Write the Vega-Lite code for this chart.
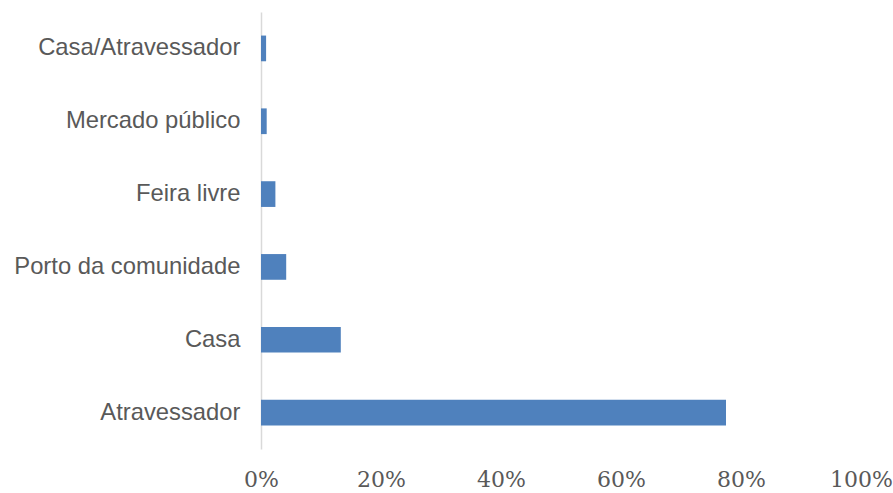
{
  "$schema": "https://vega.github.io/schema/vega-lite/v6.json",
  "width": 600,
  "height": 437,
  "autosize": {"type": "none"},
  "padding": {"left": 261, "top": 12, "right": 32, "bottom": 44},
  "background": "white",
  "data": {
    "values": [
      {"local": "Casa/Atravessador", "pct": 0.0085},
      {"local": "Mercado público", "pct": 0.0095},
      {"local": "Feira livre", "pct": 0.024},
      {"local": "Porto da comunidade", "pct": 0.042},
      {"local": "Casa", "pct": 0.133},
      {"local": "Atravessador", "pct": 0.775}
    ]
  },
  "mark": {"type": "bar", "color": "#4f81bd"},
  "encoding": {
    "y": {
      "field": "local",
      "type": "nominal",
      "sort": null,
      "scale": {"paddingInner": 0.647, "paddingOuter": 0.3235},
      "axis": {
        "title": null,
        "ticks": false,
        "domainColor": "#d9d9d9",
        "domainWidth": 1.5,
        "labelFont": "Liberation Sans",
        "labelFontSize": 23.8,
        "labelColor": "#595959",
        "labelPadding": 21,
        "labelLimit": 0
      }
    },
    "x": {
      "field": "pct",
      "type": "quantitative",
      "scale": {"domain": [0, 1]},
      "axis": {
        "title": null,
        "format": ".0%",
        "values": [0, 0.2, 0.4, 0.6, 0.8, 1],
        "grid": false,
        "domain": false,
        "ticks": false,
        "labelFont": "DejaVu Serif",
        "labelFontSize": 22,
        "labelColor": "#595959",
        "labelPadding": 20,
        "labelOverlap": false,
        "labelFlush": false
      }
    }
  },
  "config": {"view": {"stroke": null}}
}
